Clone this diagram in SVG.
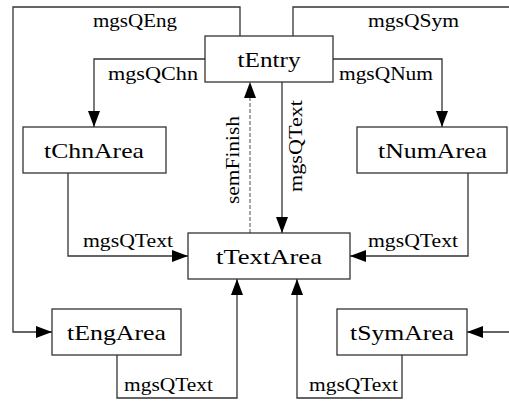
<svg xmlns="http://www.w3.org/2000/svg" width="509" height="401" viewBox="0 0 509 401">
<defs>
<style>
.box{fill:#fff;stroke:#333;stroke-width:1.3}
.nl{font-family:"Liberation Serif","Times New Roman",serif;font-size:22px;fill:#000;text-anchor:middle}
.el{font-family:"Liberation Serif","Times New Roman",serif;font-size:18px;fill:#000;text-anchor:middle}
.ln{fill:none;stroke:#333;stroke-width:1.3}
.dash{fill:none;stroke:#777;stroke-width:1.3;stroke-dasharray:4,2}
</style>
<marker id="ah" markerUnits="userSpaceOnUse" markerWidth="16" markerHeight="12" refX="16" refY="6" orient="auto">
<path d="M0,0 L16,6 L0,12 z" fill="#000"/>
</marker>
</defs>
<rect width="509" height="401" fill="#fff"/>
<g id="connectors">
<path class="ln" d="M240,36 V7 H13 V332 H52" marker-end="url(#ah)"/>
<path class="ln" d="M293,36 V7 H512 V332 H467" marker-end="url(#ah)"/>
<path class="ln" d="M205,59 H94 V127" marker-end="url(#ah)"/>
<path class="ln" d="M333,59 H442 V127" marker-end="url(#ah)"/>
<path class="ln" d="M282,82 V233" marker-end="url(#ah)"/>
<path class="dash" d="M250,233 V82" marker-end="url(#ah)"/>
<path class="ln" d="M68,173 V256 H188" marker-end="url(#ah)"/>
<path class="ln" d="M468,173 V256 H350" marker-end="url(#ah)"/>
<path class="ln" d="M117,355 V398 H237 V279" marker-end="url(#ah)"/>
<path class="ln" d="M402,355 V398 H297 V279" marker-end="url(#ah)"/>
<text class="el" x="135" y="27" textLength="84" lengthAdjust="spacingAndGlyphs">mgsQEng</text>
<text class="el" x="413.5" y="27" textLength="91" lengthAdjust="spacingAndGlyphs">mgsQSym</text>
<text class="el" x="153" y="80" textLength="90" lengthAdjust="spacingAndGlyphs">mgsQChn</text>
<text class="el" x="386" y="80" textLength="94" lengthAdjust="spacingAndGlyphs">mgsQNum</text>
<text class="el" transform="translate(239,160) rotate(-90)" x="0" y="0" textLength="88" lengthAdjust="spacingAndGlyphs">semFinish</text>
<text class="el" transform="translate(302,146) rotate(-90)" x="0" y="0" textLength="92" lengthAdjust="spacingAndGlyphs">mgsQText</text>
<text class="el" x="128" y="247" textLength="90" lengthAdjust="spacingAndGlyphs">mgsQText</text>
<text class="el" x="413" y="247" textLength="90" lengthAdjust="spacingAndGlyphs">mgsQText</text>
<text class="el" x="168.5" y="391" textLength="89" lengthAdjust="spacingAndGlyphs">mgsQText</text>
<text class="el" x="353.5" y="391" textLength="89" lengthAdjust="spacingAndGlyphs">mgsQText</text>
</g>
<g id="tEntry">
<rect class="box" x="205" y="36" width="128" height="46"/>
<text class="nl" x="269" y="66.5" textLength="63" lengthAdjust="spacingAndGlyphs">tEntry</text>
</g>
<g id="tChnArea">
<rect class="box" x="23" y="127" width="143" height="46"/>
<text class="nl" x="94" y="157.5" textLength="100" lengthAdjust="spacingAndGlyphs">tChnArea</text>
</g>
<g id="tNumArea">
<rect class="box" x="357" y="127" width="150" height="46"/>
<text class="nl" x="432.5" y="157.5" textLength="109" lengthAdjust="spacingAndGlyphs">tNumArea</text>
</g>
<g id="tTextArea">
<rect class="box" x="188" y="233" width="162" height="46"/>
<text class="nl" x="269" y="264" textLength="106" lengthAdjust="spacingAndGlyphs">tTextArea</text>
</g>
<g id="tEngArea">
<rect class="box" x="52" y="309" width="129" height="46"/>
<text class="nl" x="116.5" y="339.5" textLength="99" lengthAdjust="spacingAndGlyphs">tEngArea</text>
</g>
<g id="tSymArea">
<rect class="box" x="337" y="309" width="130" height="46"/>
<text class="nl" x="402" y="339.5" textLength="104" lengthAdjust="spacingAndGlyphs">tSymArea</text>
</g>
</svg>
